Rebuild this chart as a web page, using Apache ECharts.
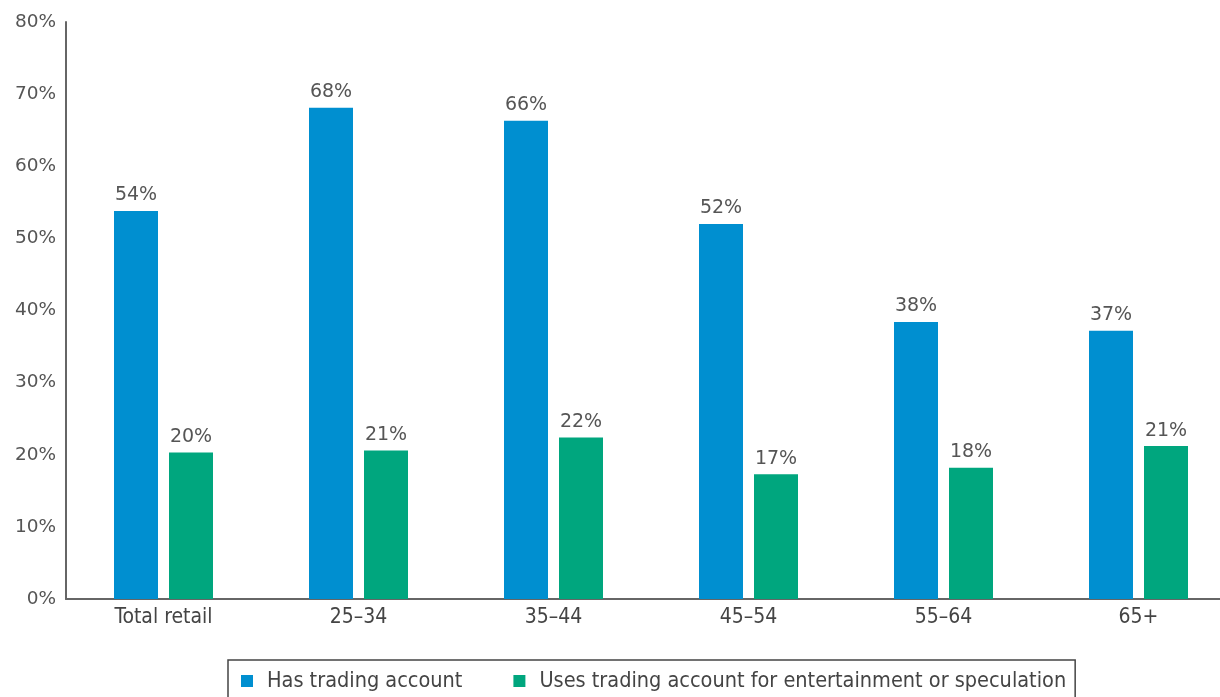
<!DOCTYPE html>
<html>
<head>
<meta charset="utf-8">
<script src="https://cdn.jsdelivr.net/npm/echarts@6/dist/echarts.min.js"></script>
<style>
html,body{margin:0;padding:0;background:#fff;overflow:hidden;width:1220px;height:697px;}
#chart{width:1236px;height:697px;}
</style>
</head>
<body>
<div id="chart"></div>
<script>
const categories = ['Total retail', '25–34', '35–44', '45–54', '55–64', '65+'];
const hasAccount = [53.8, 68.1, 66.3, 52.0, 38.4, 37.2];
const usesForSpeculation = [20.3, 20.6, 22.4, 17.3, 18.2, 21.2];
const seriesNames = ['Has trading account', 'Uses trading account for entertainment or speculation'];
const yTicks = [0, 10, 20, 30, 40, 50, 60, 70, 80];

const FONT = '"DejaVu Sans Condensed", "DejaVu Sans", sans-serif';
const NUMFONT = '"DejaVu Sans", sans-serif';
const chart = echarts.init(document.getElementById('chart'), null, {renderer: 'canvas'});
const labelStyle = {
  show: true, position: 'top', distance: 6,
  color: '#555', fontSize: 19, fontFamily: NUMFONT,
  formatter: p => Math.round(p.value) + '%'
};
chart.setOption({
  animation: false,
  backgroundColor: '#fff',
  grid: {left: 66, right: 0, top: 22, bottom: 98},
  legend: {
    left: 228, top: 660,
    padding: [10, 9, 30, 13],
    borderColor: '#444', borderWidth: 1.5,
    itemWidth: 12, itemHeight: 12, itemGap: 51,
    icon: 'rect',
    textStyle: {color: '#444', fontSize: 21.5, fontFamily: FONT, padding: [0, 0, 0, 9]},
    data: seriesNames
  },
  xAxis: {
    type: 'category', data: categories,
    axisLine: {lineStyle: {color: '#666', width: 2}},
    axisTick: {show: false},
    axisLabel: {color: '#444', fontSize: 21, fontFamily: FONT, margin: 8}
  },
  yAxis: {
    type: 'value', min: yTicks[0], max: yTicks[yTicks.length - 1], interval: 10,
    axisLine: {show: true, lineStyle: {color: '#666', width: 2}},
    axisTick: {show: false},
    splitLine: {show: false},
    axisLabel: {color: '#555', fontSize: 18.5, fontFamily: NUMFONT, margin: 10, formatter: v => v + '%'}
  },
  series: [
    {name: seriesNames[0], type: 'bar', data: hasAccount, barWidth: 44, barGap: '25%',
     itemStyle: {color: '#008fd0'}, label: labelStyle},
    {name: seriesNames[1], type: 'bar', data: usesForSpeculation, barWidth: 44,
     itemStyle: {color: '#00a67e'}, label: labelStyle}
  ]
});
</script>
</body>
</html>
